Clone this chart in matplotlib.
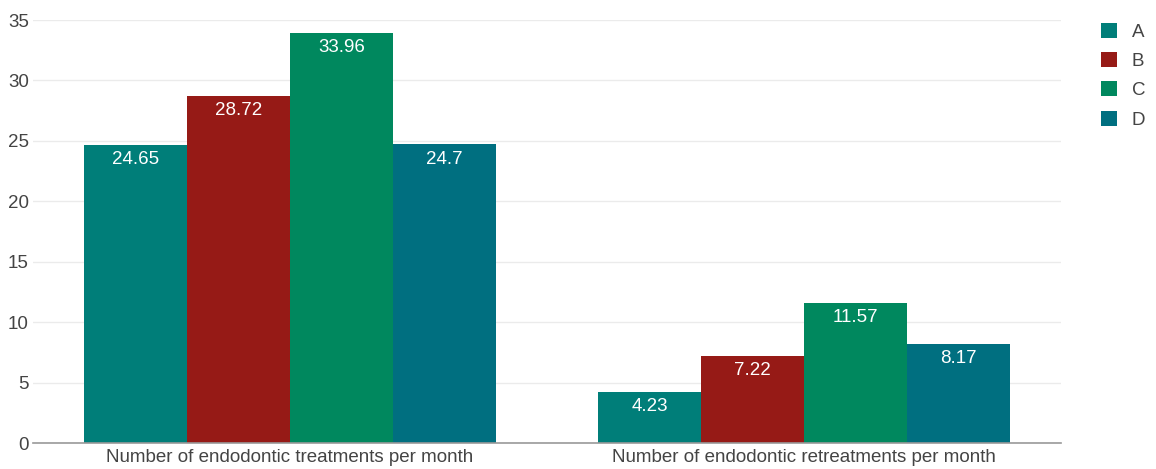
import matplotlib
matplotlib.use("Agg")
import matplotlib.pyplot as plt
import numpy as np
from matplotlib.patches import Patch

plt.rcParams['font.family'] = ['Liberation Sans', 'DejaVu Sans']

categories = ["Number of endodontic treatments per month",
              "Number of endodontic retreatments per month"]
series_names = ["A", "B", "C", "D"]
values_A = [24.65, 4.23]
values_B = [28.72, 7.22]
values_C = [33.96, 11.57]
values_D = [24.70, 8.17]
series_values = [values_A, values_B, values_C, values_D]
colors = ["#007E79", "#961A16", "#00885E", "#006F80"]
y_ticks = [0, 5, 10, 15, 20, 25, 30, 35]

fs = 13.5

fig = plt.figure(figsize=(11.56, 4.69), dpi=100)
ax = fig.add_axes([33/1156, 26/469, (1061-33)/1156, (443-20)/469])

x = np.arange(len(categories))
group_width = 0.8
bar_w = group_width / len(series_names)
for i, (name, vals, col) in enumerate(zip(series_names, series_values, colors)):
    pos = x - group_width/2 + bar_w*(i + 0.5)
    bars = ax.bar(pos, vals, width=bar_w, color=col, label=name, zorder=3)
    for b, v in zip(bars, vals):
        ax.annotate(f"{v:g}", (b.get_x() + b.get_width()/2, v),
                    xytext=(0, -10.5), textcoords="offset points",
                    ha="center", va="center", color="white", fontsize=fs,
                    zorder=4)

ax.set_xlim(-0.5, 1.5)
ax.set_ylim(0, 35)
ax.set_yticks(y_ticks)
ax.set_xticks(x)
ax.set_xticklabels(categories)
ax.tick_params(axis='both', length=0, labelsize=fs, labelcolor="#444444")
ax.tick_params(axis='y', pad=3)
ax.tick_params(axis='x', pad=4)
ax.grid(axis='y', color="#ebebeb", linewidth=1, zorder=0)
for s in ["top", "right", "left"]:
    ax.spines[s].set_visible(False)
ax.spines["bottom"].set_color("#999999")
ax.spines["bottom"].set_linewidth(1.2)
ax.spines["bottom"].set_zorder(5)

handles = [Patch(facecolor=c, label=n) for c, n in zip(colors, series_names)]
fig.legend(handles=handles, loc="upper left", bbox_to_anchor=(1086/1156, 1 - 8/469),
           frameon=False, fontsize=fs, handlelength=0.85, handleheight=0.85,
           labelspacing=0.6, handletextpad=0.8, borderpad=0.3,
           labelcolor="#444444")

fig.savefig("out.png", dpi=100, facecolor="white")
